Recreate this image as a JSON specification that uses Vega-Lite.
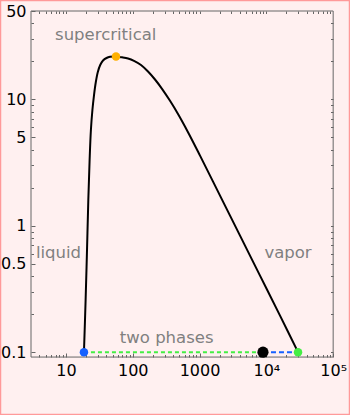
{
  "$schema": "https://vega.github.io/schema/vega-lite/v6.json",
  "width": 350,
  "height": 415,
  "padding": 0,
  "autosize": "none",
  "background": "#fff0f0",
  "config": {
    "view": {"stroke": "#ff9a9a", "strokeWidth": 2.5},
    "axis": {"grid": false, "domain": false, "title": null, "tickColor": "#666666", "labelFont": "DejaVu Sans", "labelFontSize": 16, "labelColor": "#000000", "labelFlush": false, "labelOverlap": false}
  },
  "datasets": {
    "curve": [
      {"x": 18.6, "y": 0.1}, {"x": 19.7, "y": 0.2586}, {"x": 20.67, "y": 0.643}, {"x": 21.62, "y": 1.599},
      {"x": 22.61, "y": 3.313}, {"x": 23.64, "y": 5.722}, {"x": 24.9, "y": 8.238}, {"x": 26.32, "y": 10.82},
      {"x": 28.01, "y": 13.72}, {"x": 30.01, "y": 16.46}, {"x": 32.58, "y": 18.7}, {"x": 35.89, "y": 20.29},
      {"x": 40.49, "y": 21.24}, {"x": 45.68, "y": 21.71}, {"x": 56.17, "y": 21.83}, {"x": 69.08, "y": 21.51},
      {"x": 84.96, "y": 21.05}, {"x": 104.4, "y": 20.18}, {"x": 132.9, "y": 18.7}, {"x": 169.2, "y": 16.61},
      {"x": 215.4, "y": 14.36}, {"x": 274.3, "y": 12.12}, {"x": 361.4, "y": 9.741}, {"x": 476, "y": 7.659},
      {"x": 672.1, "y": 5.498}, {"x": 1016.5, "y": 3.589}, {"x": 2025, "y": 1.732}, {"x": 4036, "y": 0.8357},
      {"x": 8036, "y": 0.4033}, {"x": 16020, "y": 0.1947}, {"x": 29800, "y": 0.1}
    ],
    "liquidTie": [{"x": 18.6, "y": 0.1}, {"x": 8900, "y": 0.1}],
    "vaporTie": [{"x": 8900, "y": 0.1}, {"x": 29800, "y": 0.1}],
    "points": [
      {"state": "liquid", "x": 18.6, "y": 0.1},
      {"state": "critical", "x": 56.17, "y": 21.83},
      {"state": "mixture", "x": 8900, "y": 0.1},
      {"state": "vapor", "x": 29800, "y": 0.1}
    ],
    "labels": [
      {"text": "supercritical", "x": 39.4, "y": 32.3},
      {"text": "liquid", "x": 7.74, "y": 0.605},
      {"text": "vapor", "x": 21100, "y": 0.612},
      {"text": "two phases", "x": 322, "y": 0.129}
    ]
  },
  "resolve": {"axis": {"x": "independent", "y": "independent"}},
  "layer": [
    {
      "data": {"values": [{}]},
      "mark": {"type": "rect", "filled": false, "stroke": "#666666", "strokeWidth": 1},
      "encoding": {
        "x": {"datum": 3, "type": "quantitative", "scale": {"type": "log", "domain": [1.03, 178700], "nice": false, "zero": false}, "axis": null},
        "x2": {"datum": 100000},
        "y": {"datum": 0.0915, "type": "quantitative", "scale": {"type": "log", "domain": [0.03184, 61.1], "nice": false, "zero": false}, "axis": null},
        "y2": {"datum": 50}
      }
    },
    {
      "data": {"name": "curve"},
      "mark": {"type": "line", "color": "#000000", "strokeWidth": 2, "interpolate": "catmull-rom"},
      "encoding": {
        "x": {"field": "x", "type": "quantitative", "scale": {"type": "log", "domain": [1.03, 178700], "nice": false, "zero": false},
          "axis": {"orient": "bottom", "offset": -58, "values": [10, 100, 1000, 10000, 100000], "tickSize": -4, "labelPadding": 9, "format": "d",
            "labelExpr": "datum.value == 10000 ? '10⁴' : datum.value == 100000 ? '10⁵' : datum.label"}},
        "y": {"field": "y", "type": "quantitative", "scale": {"type": "log", "domain": [0.03184, 61.1], "nice": false, "zero": false},
          "axis": {"orient": "left", "offset": -31, "values": [0.1, 0.5, 1, 5, 10, 50], "tickSize": -4, "labelPadding": 9, "format": "~g"}}
      }
    },
    {
      "data": {"name": "liquidTie"},
      "mark": {"type": "line", "color": "#44ee44", "strokeWidth": 2, "strokeDash": [4, 3]},
      "encoding": {
        "x": {"field": "x", "type": "quantitative", "scale": {"type": "log", "domain": [1.03, 178700], "nice": false, "zero": false},
          "axis": {"orient": "bottom", "offset": -58, "labels": false, "tickSize": -2.5,
            "values": [4, 5, 6, 7, 8, 9, 20, 30, 40, 50, 60, 70, 80, 90, 200, 300, 400, 500, 600, 700, 800, 900, 2000, 3000, 4000, 5000, 6000, 7000, 8000, 9000, 20000, 30000, 40000, 50000, 60000, 70000, 80000, 90000]}},
        "y": {"field": "y", "type": "quantitative", "scale": {"type": "log", "domain": [0.03184, 61.1], "nice": false, "zero": false},
          "axis": {"orient": "left", "offset": -31, "labels": false, "tickSize": -2.5,
            "values": [0.2, 0.3, 0.4, 0.6, 0.7, 0.8, 0.9, 2, 3, 4, 6, 7, 8, 9, 20, 30, 40]}}
      }
    },
    {
      "data": {"name": "vaporTie"},
      "mark": {"type": "line", "color": "#1560ff", "strokeWidth": 2, "strokeDash": [5, 3]},
      "encoding": {
        "x": {"field": "x", "type": "quantitative", "scale": {"type": "log", "domain": [1.03, 178700], "nice": false, "zero": false}, "axis": null},
        "y": {"field": "y", "type": "quantitative", "scale": {"type": "log", "domain": [0.03184, 61.1], "nice": false, "zero": false}, "axis": null}
      }
    },
    {
      "data": {"name": "points"},
      "mark": {"type": "circle", "opacity": 1},
      "encoding": {
        "x": {"field": "x", "type": "quantitative", "scale": {"type": "log", "domain": [1.03, 178700], "nice": false, "zero": false},
          "axis": {"orient": "top", "offset": -11, "labels": false, "tickSize": -2.5,
            "values": [4, 5, 6, 7, 8, 9, 10, 20, 30, 40, 50, 60, 70, 80, 90, 100, 200, 300, 400, 500, 600, 700, 800, 900, 1000, 2000, 3000, 4000, 5000, 6000, 7000, 8000, 9000, 10000, 20000, 30000, 40000, 50000, 60000, 70000, 80000, 90000]}},
        "y": {"field": "y", "type": "quantitative", "scale": {"type": "log", "domain": [0.03184, 61.1], "nice": false, "zero": false},
          "axis": {"orient": "right", "offset": -17, "labels": false, "tickSize": -2.5,
            "values": [0.1, 0.2, 0.3, 0.4, 0.5, 0.6, 0.7, 0.8, 0.9, 1, 2, 3, 4, 5, 6, 7, 8, 9, 10, 20, 30, 40]}},
        "color": {"field": "state", "type": "nominal", "legend": null,
          "scale": {"domain": ["liquid", "critical", "mixture", "vapor"], "range": ["#1560ff", "#ffb000", "#000000", "#44ee44"]}},
        "size": {"condition": {"test": "datum.state === 'mixture'", "value": 125}, "value": 72}
      }
    },
    {
      "data": {"name": "labels"},
      "mark": {"type": "text", "font": "DejaVu Sans", "fontSize": 16.5, "color": "#808080", "align": "center", "baseline": "middle"},
      "encoding": {
        "x": {"field": "x", "type": "quantitative", "scale": {"type": "log", "domain": [1.03, 178700], "nice": false, "zero": false}, "axis": null},
        "y": {"field": "y", "type": "quantitative", "scale": {"type": "log", "domain": [0.03184, 61.1], "nice": false, "zero": false}, "axis": null},
        "text": {"field": "text"}
      }
    }
  ]
}
